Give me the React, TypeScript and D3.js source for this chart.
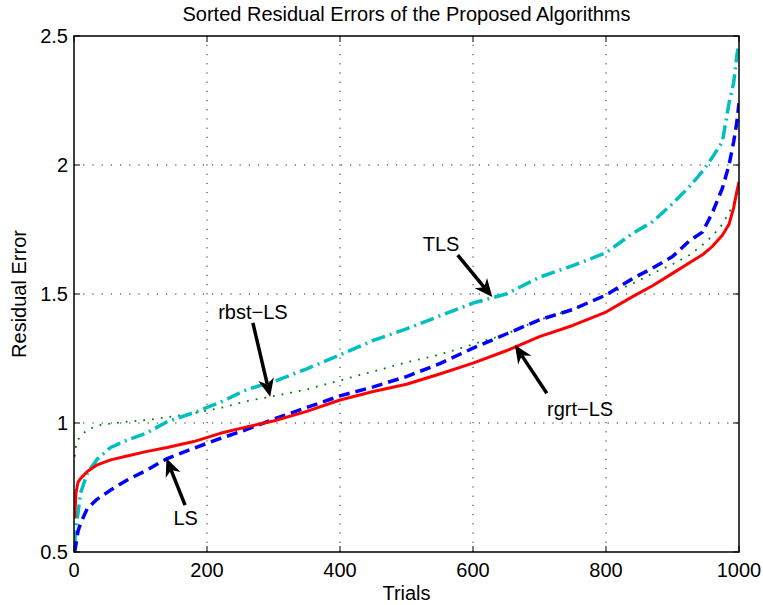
import { useEffect, useRef } from 'react';
import * as d3 from 'd3';

// sample positions along the sorted trials
const trials = [1, 3, 6, 10, 20, 35, 55, 80, 110, 140, 180, 220, 260, 300, 350, 400, 450, 500, 550, 600, 650, 700, 750, 800, 840, 870, 900, 925, 945, 960, 975, 985, 992, 997, 1000];

const rgrtLS = [0.63, 0.73, 0.77, 0.785, 0.812, 0.838, 0.857, 0.872, 0.89, 0.905, 0.928, 0.96, 0.985, 1.008, 1.045, 1.089, 1.122, 1.15, 1.19, 1.232, 1.28, 1.335, 1.378, 1.43, 1.49, 1.532, 1.58, 1.62, 1.652, 1.685, 1.728, 1.77, 1.835, 1.9, 1.935];
const LS = [0.5, 0.53, 0.58, 0.612, 0.668, 0.705, 0.74, 0.779, 0.818, 0.862, 0.902, 0.94, 0.975, 1.015, 1.06, 1.105, 1.14, 1.18, 1.23, 1.29, 1.345, 1.4, 1.44, 1.496, 1.56, 1.6, 1.645, 1.705, 1.74, 1.815, 1.91, 2.0, 2.09, 2.17, 2.24];
const TLS = [0.53, 0.6, 0.651, 0.73, 0.805, 0.86, 0.905, 0.934, 0.962, 1.005, 1.04, 1.08, 1.13, 1.16, 1.21, 1.264, 1.32, 1.365, 1.415, 1.465, 1.5, 1.565, 1.61, 1.66, 1.735, 1.78, 1.85, 1.915, 1.975, 2.03, 2.09, 2.24, 2.32, 2.43, 2.47];
const rbstLS = [0.87, 0.91, 0.935, 0.95, 0.973, 0.99, 0.998, 1.005, 1.012, 1.022, 1.038, 1.058, 1.085, 1.104, 1.13, 1.165, 1.2, 1.235, 1.265, 1.305, 1.345, 1.4, 1.44, 1.495, 1.54, 1.58, 1.615, 1.65, 1.69, 1.725, 1.77, 1.815, 1.85, 1.89, 1.91];

const xTicks = [0, 200, 400, 600, 800, 1000];
const yTicks = [0.5, 1, 1.5, 2, 2.5];

// annotations: label position, arrow start, arrow tip (data coords)
const notes = [
  { text: 'TLS', at: [552, 1.694], from: [577, 1.651], to: [629, 1.488] },
  { text: 'rbst\u2212LS', at: [269, 1.43], from: [269, 1.388], to: [295, 1.102] },
  { text: 'LS', at: [168, 0.632], from: [167, 0.682], to: [139, 0.863] },
  { text: 'rgrt\u2212LS', at: [761, 1.054], from: [711, 1.115], to: [663, 1.302] },
];

const W = 763;
const H = 605;
const margin = { top: 36, right: 24, bottom: 53, left: 74 };
const FONT = '"Liberation Sans", Arial, Helvetica, sans-serif';
const FS = 20;

export default function App() {
  const svgRef = useRef<SVGSVGElement>(null);

  useEffect(() => {
    if (!svgRef.current) return;
    const svg = d3.select(svgRef.current);
    svg.selectAll('*').remove();

    const innerW = W - margin.left - margin.right;
    const innerH = H - margin.top - margin.bottom;

    const x = d3.scaleLinear().domain([0, 1000]).range([0, innerW]);
    const y = d3.scaleLinear().domain([0.5, 2.5]).range([innerH, 0]);

    svg.append('rect').attr('width', W).attr('height', H).attr('fill', '#fff');

    svg.append('defs').append('clipPath').attr('id', 'plot-clip')
      .append('rect').attr('width', innerW).attr('height', innerH);

    const g = svg.append('g').attr('transform', `translate(${margin.left},${margin.top})`);

    // grid
    const grid = g.append('g').attr('stroke', '#222').attr('stroke-width', 1).attr('stroke-dasharray', '1.2,8');
    xTicks.slice(1, -1).forEach(t => {
      grid.append('line').attr('x1', x(t)).attr('x2', x(t)).attr('y1', innerH).attr('y2', 0);
    });
    yTicks.slice(1, -1).forEach(t => {
      grid.append('line').attr('x1', 0).attr('x2', innerW).attr('y1', y(t)).attr('y2', y(t));
    });

    // series
    const line = d3.line<number>()
      .x((_, i) => x(trials[i]))
      .y(d => y(d));

    const series = [
      { data: rbstLS, color: '#008000', width: 1.8, dash: '1.8,7' },
      { data: TLS, color: '#00bfbf', width: 3.5, dash: '14,5,2,5' },
      { data: LS, color: '#0000ff', width: 3.5, dash: '11,6' },
      { data: rgrtLS, color: '#ff0000', width: 3, dash: null },
    ];

    const lines = g.append('g').attr('clip-path', 'url(#plot-clip)');
    series.forEach(s => {
      lines.append('path')
        .attr('d', line(s.data))
        .attr('fill', 'none')
        .attr('stroke', s.color)
        .attr('stroke-width', s.width)
        .attr('stroke-dasharray', s.dash)
        .attr('stroke-linejoin', 'round');
    });

    // box and inward ticks
    g.append('rect').attr('width', innerW).attr('height', innerH)
      .attr('fill', 'none').attr('stroke', '#000').attr('stroke-width', 1.5);

    const tickLen = 6;
    const ticks = g.append('g').attr('stroke', '#000').attr('stroke-width', 1);
    xTicks.forEach(t => {
      ticks.append('line').attr('x1', x(t)).attr('x2', x(t)).attr('y1', innerH).attr('y2', innerH - tickLen);
      ticks.append('line').attr('x1', x(t)).attr('x2', x(t)).attr('y1', 0).attr('y2', tickLen);
    });
    yTicks.forEach(t => {
      ticks.append('line').attr('x1', 0).attr('x2', tickLen).attr('y1', y(t)).attr('y2', y(t));
      ticks.append('line').attr('x1', innerW).attr('x2', innerW - tickLen).attr('y1', y(t)).attr('y2', y(t));
    });

    g.append('g').selectAll('text').data(xTicks).enter().append('text')
      .attr('x', d => x(d)).attr('y', innerH + 25)
      .attr('text-anchor', 'middle')
      .attr('font-family', FONT).attr('font-size', FS)
      .text(d => String(d));

    g.append('g').selectAll('text').data(yTicks).enter().append('text')
      .attr('x', -6).attr('y', d => y(d) + 7)
      .attr('text-anchor', 'end')
      .attr('font-family', FONT).attr('font-size', FS)
      .text(d => String(d));

    // labels and title
    svg.append('text')
      .attr('x', margin.left + innerW / 2).attr('y', 600)
      .attr('text-anchor', 'middle').attr('font-family', FONT).attr('font-size', FS)
      .text('Trials');

    svg.append('text')
      .attr('transform', `translate(26,${margin.top + innerH / 2}) rotate(-90)`)
      .attr('text-anchor', 'middle').attr('font-family', FONT).attr('font-size', FS)
      .text('Residual Error');

    svg.append('text')
      .attr('x', margin.left + innerW / 2).attr('y', 21)
      .attr('text-anchor', 'middle').attr('font-family', FONT).attr('font-size', FS)
      .text('Sorted Residual Errors of the Proposed Algorithms');

    // annotation arrows
    const ann = g.append('g');
    const headLen = 18;
    const headHalf = 8;
    notes.forEach(n => {
      const x0 = x(n.from[0]), y0 = y(n.from[1]);
      const x1 = x(n.to[0]), y1 = y(n.to[1]);
      const len = Math.hypot(x1 - x0, y1 - y0);
      const ux = (x1 - x0) / len, uy = (y1 - y0) / len;
      const px = -uy, py = ux;
      const bx = x1 - ux * headLen, by = y1 - uy * headLen;
      const nx = x1 - ux * headLen * 0.7, ny = y1 - uy * headLen * 0.7;
      ann.append('line')
        .attr('x1', x0).attr('y1', y0).attr('x2', nx).attr('y2', ny)
        .attr('stroke', '#000').attr('stroke-width', 3.5);
      ann.append('path')
        .attr('d', `M${x1},${y1}L${bx + px * headHalf},${by + py * headHalf}L${nx},${ny}L${bx - px * headHalf},${by - py * headHalf}Z`)
        .attr('fill', '#000');
      ann.append('text')
        .attr('x', x(n.at[0])).attr('y', y(n.at[1]) + 7)
        .attr('text-anchor', 'middle')
        .attr('font-family', FONT).attr('font-size', FS)
        .text(n.text);
    });
  }, []);

  return (
    <svg
      ref={svgRef}
      width={W}
      height={H}
      style={{ position: 'absolute', left: 0, top: 0, display: 'block' }}
    />
  );
}
